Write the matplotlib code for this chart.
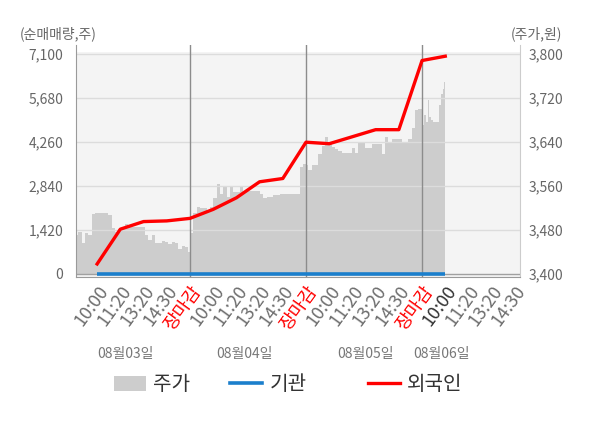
import numpy as np
import matplotlib.pyplot as plt
from matplotlib.patches import Patch
from matplotlib.lines import Line2D

plt.rcParams['font.family'] = ['Noto Sans CJK KR', 'DejaVu Sans']

# --- 데이터 ---
tick_labels = ['10:00', '11:20', '13:20', '14:30', '장마감',
               '10:00', '11:20', '13:20', '14:30', '장마감',
               '10:00', '11:20', '13:20', '14:30', '장마감',
               '10:00', '11:20', '13:20', '14:30']
date_labels = ['08월03일', '08월04일', '08월05일', '08월06일']
date_pos = [1.2, 6.35, 11.55, 14.85]
close_pos = [4, 9, 14]

# 외국인 / 기관 순매매량 (주)
flow_x = list(range(16))
foreign = [323, 1443, 1688, 1710, 1791, 2081, 2453, 2969, 3075,
           4244, 4195, 4421, 4647, 4647, 6874, 7013]
institution = [0] * 16

# 주가 (원), 일자별
price_d1 = [3471, 3477, 3456, 3474, 3471, 3509, 3511, 3511, 3510, 3510, 3507, 3483,
            3477, 3481, 3483, 3490, 3486, 3486, 3486, 3485, 3485, 3470, 3462, 3471,
            3456, 3457, 3460, 3458, 3454, 3458, 3457, 3446, 3450, 3449, 3440]
price_d2 = [3474, 3510, 3522, 3520, 3519, 3513, 3522, 3537, 3564, 3546, 3557, 3540,
            3558, 3549, 3549, 3557, 3549, 3551, 3551, 3551, 3551, 3545, 3537, 3540,
            3540, 3543, 3543, 3546, 3546, 3545, 3546, 3546, 3546, 3595, 3600]
price_d3 = [3597, 3588, 3597, 3597, 3618, 3633, 3649, 3639, 3630, 3626, 3624, 3620,
            3620, 3620, 3629, 3620, 3637, 3637, 3629, 3629, 3635, 3635, 3635, 3618,
            3649, 3639, 3644, 3644, 3644, 3639, 3639, 3644, 3664, 3697, 3700]
price_d4 = [3670, 3688, 3676, 3715, 3685, 3679, 3676, 3676, 3676, 3676, 3706, 3727,
            3736, 3748]

left_ticks = [0, 1420, 2840, 4260, 5680, 7100]
right_ticks = [3400, 3480, 3560, 3640, 3720, 3800]

price = np.array(price_d1 + price_d2 + price_d3 + price_d4)
price_x = np.concatenate([np.linspace(-0.88, 4.0, len(price_d1)),
                          np.linspace(4.08, 8.96, len(price_d2)),
                          np.linspace(9.03, 13.91, len(price_d3)),
                          np.linspace(14.06, 15.0, len(price_d4))])

# --- 그림 ---
fig = plt.figure(figsize=(6, 4.28), dpi=100)
ax = fig.add_axes([76 / 600, 1 - 277 / 428, 444 / 600, 232 / 428])
ax2 = ax.twinx()
ax.set_zorder(ax2.get_zorder() + 1)
ax.patch.set_visible(False)

ylo, yhi = -97, 7374
ax.set_ylim(ylo, yhi)
to_price = lambda v: 3400 + v * 400 / 7100
ax2.set_ylim(to_price(ylo), to_price(yhi))
ax.set_xlim(-0.91, 18.22)

ax2.axhspan(to_price(ylo), to_price(7150), color='#f4f4f4', lw=0, zorder=0)
ax2.fill_between(price_x, 3400, price, step='mid', color='#cdcdcd', lw=0, zorder=1)

for y in left_ticks[1:]:
    ax.axhline(y, color='#dcdcdc', lw=1, zorder=1)
ax.axhline(0, color='#a0a0a0', lw=1, zorder=1)
for p in close_pos:
    ax.axvline(p, color='#8c8c8c', lw=1, zorder=2)

ax.plot(flow_x, institution, color='#1b7fcc', lw=2.6, zorder=4, solid_capstyle='butt')
ax.plot(flow_x, foreign, color='#ff0000', lw=2.4, zorder=5)

ax.set_yticks(left_ticks)
ax.set_yticklabels([f'{v:,}' for v in left_ticks])
ax2.set_yticks(right_ticks)
ax2.set_yticklabels([f'{v:,}' for v in right_ticks])
ax.tick_params(axis='y', length=0, pad=9, labelsize=10, labelcolor='#666666')
ax2.tick_params(axis='y', length=0, pad=6, labelsize=10, labelcolor='#666666')

ax.set_xticks(range(len(tick_labels)))
ax.set_xticklabels(tick_labels, rotation=54, ha='right', va='top', rotation_mode='anchor')
ax.tick_params(axis='x', length=0, pad=4, labelsize=13, labelcolor='#6e6e6e')
for i, t in enumerate(ax.get_xticklabels()):
    if tick_labels[i] == '장마감':
        t.set_color('#ff0000')
    elif i == 15:
        t.set_color('#333333')
ax.set_xticks(close_pos, minor=True)
ax.tick_params(axis='x', which='minor', length=4, color='#8c8c8c')

for s in ['top']:
    ax.spines[s].set_visible(False)
    ax2.spines[s].set_visible(False)
ax.spines['left'].set_color('#9a9a9a')
ax.spines['bottom'].set_color('#9a9a9a')
ax.spines['right'].set_visible(False)
ax2.spines['left'].set_visible(False)
ax2.spines['bottom'].set_visible(False)
ax2.spines['right'].set_color('#cccccc')

for pos, lab in zip(date_pos, date_labels):
    ax.text(pos, -0.33, lab, transform=ax.get_xaxis_transform(), ha='center', va='center',
            fontsize=10, color='#777777')

fig.text(20 / 600, 1 - 34 / 428, '(순매매량,주)', fontsize=10, color='#666666', va='center')
fig.text(562 / 600, 1 - 34 / 428, '(주가,원)', fontsize=10, color='#666666', va='center', ha='right')

handles = [Patch(color='#cdcdcd', lw=0), Line2D([], [], color='#1b7fcc', lw=2.6),
           Line2D([], [], color='#ff0000', lw=2.4)]
names = ['주가', '기관', '외국인']
for h, n, x0 in zip(handles, names, [114, 230, 368]):
    fig.legend([h], [n], loc='center left', bbox_to_anchor=(x0 / 600, 1 - 385 / 428),
               frameon=False, fontsize=14.5, handlelength=1.6, handleheight=0.75,
               handletextpad=0.35, borderpad=0, borderaxespad=0, labelcolor='#333333')

fig.savefig('out.png', dpi=100)
